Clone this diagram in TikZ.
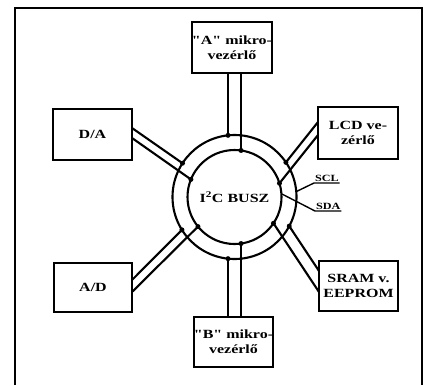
\documentclass[tikz,border=0pt]{standalone}
\usepackage{fontspec}
\setmainfont{Liberation Serif}
\newfontfamily\stretchfont{Liberation Serif}[FakeStretch=1.28]
\begin{document}
\begin{tikzpicture}[x=1pt,y=-1pt,line width=2.1pt,
  box/.style={draw,outer sep=0pt,inner sep=0pt,align=center,
    font=\stretchfont\bfseries\fontsize{12.5}{15}\selectfont},
  ring/.style={draw,circle,outer sep=0pt,inner sep=0pt},
  lbl/.style={inner sep=1pt,outer sep=0pt,anchor=south west,
    font=\stretchfont\bfseries\fontsize{9.5}{10}\selectfont},
  dotr/.style={fill=black}]
\useasboundingbox (0,0) rectangle (427,385);
% frame
\draw (15,385) -- (15,8) -- (422,8) -- (422,385);
% bus rings
\node[ring,minimum size=124pt] (outer) at (234.5,197) {};
\node[ring,minimum size=94pt,font=\stretchfont\bfseries\fontsize{12.5}{14}\selectfont] (inner) at (234.5,197) {I\textsuperscript{2}C BUSZ};
% boxes
\node[box,minimum width=78pt,minimum height=51pt] (A) at (232,47.5) {"A" mikro-\\vezérlő};
\node[box,minimum width=79pt,minimum height=51pt] (DA) at (92.5,134.5) {D/A};
\node[box,minimum width=80pt,minimum height=52pt] (LCD) at (358,133) {LCD ve-\\zérlő};
\node[box,minimum width=78pt,minimum height=49pt] (AD) at (93,287.5) {A/D};
\node[box,minimum width=79pt,minimum height=50pt] (SRAM) at (358.5,286) {SRAM v.\\EEPROM};
\node[box,minimum width=79pt,minimum height=50pt] (B) at (233.5,342) {"B" mikro-\\vezérlő};
% bus lines
\draw (outer.96) -- (outer.96 |- A.south);
\draw (inner.82) -- (inner.82 |- A.south);
\draw (outer.264.9) -- (outer.264.9 |- B.north);
\draw (inner.278.6) -- (inner.278.6 |- B.north);
\draw (outer.147.4) -- ([yshift=-19pt]DA.north east);
\draw (inner.158.4) -- ([yshift=-29pt]DA.north east);
\draw (outer.34.4) -- ([yshift=-15pt]LCD.north west);
\draw (inner.17.6) -- ([yshift=-28pt]LCD.north west);
\draw (outer.212.8) -- ([yshift=-17pt]AD.north east);
\draw (inner.219.4) -- ([yshift=-29pt]AD.north east);
\draw (outer.332.1) -- ([yshift=-10pt]SRAM.north west);
\draw (inner.326.1) -- ([yshift=-31pt]SRAM.north west);
% dots
\foreach \p in {outer.96,inner.82,outer.264.9,inner.278.6,outer.147.4,inner.158.4,
  outer.34.4,inner.17.6,outer.212.8,inner.219.4,outer.332.1,inner.326.1}
  \fill[dotr] (\p) circle (2.5pt);
% SCL / SDA labels
\node[lbl] (scl) at (314,183) {SCL};
\node[lbl] (sda) at (315,211) {SDA};
\draw[line width=1.4pt] (outer.5) -- (scl.south west) -- (scl.south east);
\draw[line width=1.4pt] (inner.4) -- (sda.south west) -- (sda.south east);
\end{tikzpicture}
\end{document}
